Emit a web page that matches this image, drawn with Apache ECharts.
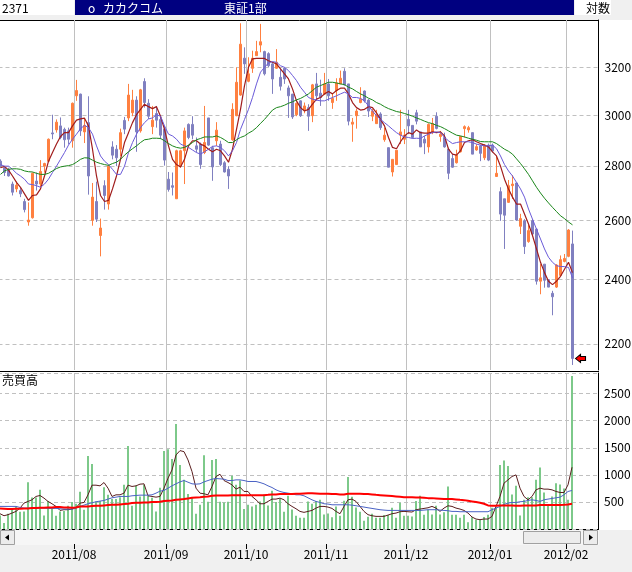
<!DOCTYPE html>
<html>
<head>
<meta charset="utf-8">
<script src="https://cdn.jsdelivr.net/npm/echarts/dist/echarts.min.js"></script>
<style>
html, body { margin: 0; padding: 0; background: #fff; }
#chart { width: 632px; height: 572px; }
</style>
</head>
<body>
<div id="chart"></div>
<script>
// trading days shown, per month
const months = ['2011/07', '2011/08', '2011/09', '2011/10', '2011/11', '2011/12', '2012/01', '2012/02'];
const monthDays = [
  [4, 5, 6, 7, 8, 11, 12, 13, 14, 15, 19, 20, 21, 22, 25, 26, 27, 28, 29],
  [1, 2, 3, 4, 5, 8, 9, 10, 11, 12, 15, 16, 17, 18, 19, 22, 23, 24, 25, 26, 29, 30, 31],
  [1, 2, 5, 6, 7, 8, 9, 12, 13, 14, 15, 16, 20, 21, 22, 26, 27, 28, 29, 30],
  [3, 4, 5, 6, 7, 11, 12, 13, 14, 17, 18, 19, 20, 21, 24, 25, 26, 27, 28, 31],
  [1, 2, 4, 7, 8, 9, 10, 11, 14, 15, 16, 17, 18, 21, 22, 24, 25, 28, 29, 30],
  [1, 2, 5, 6, 7, 8, 9, 12, 13, 14, 15, 16, 19, 20, 21, 22, 26, 27, 28, 29, 30],
  [4, 5, 6, 10, 11, 12, 13, 16, 17, 18, 19, 20, 23, 24, 25, 26, 27, 30, 31],
  [1, 2]
];
const emptySlots = 6;

const opens = [2818,2793,2787,2732,2714,2708,2668,2595,2610,2743, 2732,2799,2818,2928,2940,2956,2942,2936,2897,3079,
  3086,2932,2969,2601,2668,2548,2726,2659,2873,2864, 2864,2978,2988,3009,3061,2936,3139,3048,2953,3006,
  2982,2943,2750,2726,2678,2799,2858,2962,2962,2877, 2884,2851,2988,2870,2897,2884,2812,2787,2901,2997,
  3082,3240,3140,3196,3251,3298,3269,3260,3215,3196, 3157,3196,3112,3086,3001,3058,3020,3030,2997,3129,
  3090,3086,3129,3051,3101,3129,3183,3129,2963,2997, 3051,3099,3061,2995,2965,3004,2901,2870,2777,2805,
  2919,2903,2982,2958,3009,2932,2903,2873,2929,2995, 2914,2910,2864,2828,2812,2854,2945,2940,2929,2861,
  2877,2831,2880,2880,2760,2704,2678,2665,2726,2736, 2580,2599,2527,2599,2570,2395,2451,2400,2356,2376,
  2414,2460,2477,2519];
const closes = [2799,2775,2762,2702,2728,2696,2639,2602,2772,2732, 2779,2809,2903,2924,2971,2910,2901,2903,3048,3101,
  2936,2958,2762,2684,2605,2574,2690,2799,2841,2831, 2929,2943,3082,3061,2932,3104,3051,2995,2979,2979,
  2919,2822,2712,2720,2858,2858,2936,2910,2919,2864, 2805,2890,2880,2796,2939,2805,2777,2762,3023,3136,
  3302,3215,3172,3240,3269,3313,3172,3207,3150,3222, 3119,3150,3079,2992,3048,2997,3037,2995,3125,3079,
  3072,3129,3079,3068,3133,3153,3125,2975,2971,3016, 3065,3058,3016,3016,3001,2949,2919,2795,2825,2860,
  2932,2919,2956,2910,2975,2873,2888,2962,2965,2946, 2923,2873,2772,2795,2841,2914,2953,2949,2845,2874,
  2848,2880,2822,2857,2772,2623,2619,2726,2732,2602, 2607,2510,2565,2553,2395,2406,2398,2376,2345,2448,
  2466,2470,2567,2157];
const lows = [2793,2762,2760,2690,2702,2684,2629,2582,2607,2708, 2720,2775,2814,2903,2929,2903,2870,2883,2870,3058,
  2916,2888,2693,2582,2595,2477,2639,2639,2825,2799, 2838,2923,2975,2995,2854,2929,3030,2984,2923,2949,
  2903,2801,2704,2690,2678,2793,2732,2903,2903,2851, 2789,2845,2877,2744,2877,2799,2775,2714,2897,2995,
  3079,3172,3136,3176,3251,3266,3165,3200,3087,3193, 3101,3129,2988,2984,2995,2992,3007,2936,2971,3058,
  3037,3082,3058,3025,3058,3129,3122,2958,2893,2945, 3048,3051,2992,2975,2965,2940,2893,2795,2760,2805,
  2884,2884,2923,2906,2962,2873,2845,2851,2923,2942, 2893,2870,2750,2793,2809,2851,2910,2929,2845,2858,
  2818,2822,2818,2851,2760,2599,2502,2663,2677,2599, 2553,2485,2523,2548,2384,2353,2374,2376,2287,2373,
  2411,2457,2474,2138];
const highs = [2825,2799,2793,2741,2741,2720,2678,2665,2775,2775, 2822,2812,2906,3001,2982,2990,2949,2949,3051,3146,
  3088,2988,3077,2736,2741,2607,2746,2805,2895,2880, 2945,2992,3129,3104,3077,3108,3153,3065,3037,3037,
  2995,2956,2777,2775,2862,2862,2949,2966,2995,2910, 2890,3037,2988,2877,2971,2897,2818,2799,3048,3200,
  3397,3288,3244,3273,3317,3394,3273,3266,3222,3280, 3196,3200,3122,3086,3051,3060,3051,3044,3129,3176,
  3147,3176,3150,3090,3153,3186,3196,3129,2988,3025, 3115,3101,3065,3025,3021,3011,2949,2870,2825,2860,
  3021,2943,3021,2958,3021,2932,2916,2966,2988,3011, 2936,2929,2870,2845,2862,2916,2958,2956,2929,2884,
  2880,2884,2886,2886,2838,2720,2678,2747,2765,2736, 2624,2605,2584,2605,2573,2451,2451,2400,2364,2451,
  2480,2485,2570,2565];

// price moving averages (short / mid / long)
const maShort = [2793,2798,2784,2762,2738,2720,2696,2672,2690,2692, 2714,2762,2818,2851,2884,2914,2929,2929,2956,2979,
  2984,2987,2956,2864,2762,2690,2668,2672,2714,2762, 2825,2890,2929,2969,3001,3023,3044,3034,3026,3034,
  2995,2942,2877,2825,2805,2796,2825,2877,2897,2897, 2884,2877,2864,2854,2864,2858,2838,2814,2864,2942,
  3023,3122,3200,3237,3239,3239,3239,3229,3222,3215, 3193,3172,3150,3108,3058,3030,3016,3023,3044,3065,
  3072,3087,3097,3087,3101,3111,3111,3087,3051,3030, 3020,3023,3034,3030,3009,2982,2956,2910,2871,2866,
  2893,2916,2929,2923,2940,2929,2927,2927,2932,2929, 2932,2916,2864,2845,2841,2858,2890,2897,2901,2893,
  2886,2880,2873,2854,2838,2799,2750,2714,2684,2659, 2659,2623,2588,2548,2502,2457,2423,2395,2384,2395,
  2411,2434,2457,2423];
const maMid = [2805,2799,2799,2787,2772,2762,2750,2732,2730,2726, 2720,2732,2750,2775,2799,2825,2851,2880,2903,2923,
  2945,2958,2949,2923,2877,2838,2818,2805,2787,2768, 2768,2799,2851,2890,2923,2949,2969,2984,2988,3001,
  2995,2956,2923,2916,2903,2884,2877,2871,2861,2851, 2845,2854,2864,2875,2877,2871,2858,2838,2858,2890,
  2942,2982,3023,3072,3129,3179,3200,3219,3225,3222, 3207,3200,3186,3165,3143,3115,3094,3072,3065,3061,
  3058,3058,3065,3072,3079,3087,3094,3087,3072,3072, 3068,3058,3037,3016,2997,2982,2969,2956,2942,2929,
  2919,2912,2910,2906,2907,2906,2916,2923,2929,2932, 2929,2910,2897,2886,2890,2893,2893,2893,2890,2884,
  2880,2877,2877,2880,2866,2838,2805,2781,2762,2738, 2714,2684,2641,2605,2570,2536,2502,2474,2457,2446,
  2443,2443,2440,2406];
const maLong = [2768,2781,2787,2789,2789,2787,2781,2778,2777,2772, 2768,2768,2772,2781,2790,2796,2799,2801,2805,2814,
  2825,2831,2830,2822,2814,2809,2805,2802,2809,2814, 2825,2841,2854,2866,2877,2890,2901,2903,2907,2907,
  2906,2897,2886,2877,2871,2868,2871,2880,2890,2901, 2906,2912,2912,2912,2916,2910,2901,2890,2890,2901,
  2910,2916,2927,2936,2949,2966,2982,3001,3020,3030, 3034,3040,3048,3054,3062,3068,3077,3087,3101,3115,
  3122,3129,3136,3136,3133,3129,3126,3115,3108,3097, 3087,3079,3069,3062,3051,3044,3034,3026,3020,3014,
  3011,3006,3001,2995,2988,2982,2975,2969,2965,2958, 2953,2945,2936,2927,2919,2916,2912,2907,2903,2899,
  2894,2893,2893,2893,2886,2875,2864,2856,2845,2827, 2809,2789,2768,2744,2720,2699,2680,2663,2647,2632,
  2617,2607,2595,2585];

const volumes = [250,110,282,368,417,319,325,864,582,582, 723,251,515,374,245,325,331,429,497,466,
  687,356,1349,1201,509,515,772,631,552,552, 588,815,1533,429,797,601,815,613,576,325,
  760,1441,1471,1293,1937,1183,907,644,576,282, 447,1361,503,1275,1293,503,490,503,981,815,
  895,368,447,417,447,509,638,435,705,497, 552,319,613,362,245,208,208,509,466,515,
  539,270,288,215,417,245,521,962,595,398, 319,153,227,282,208,208,257,257,392,208,
  484,245,245,233,515,613,264,356,270,429, 270,307,785,264,264,208,264,123,215,172,
  172,221,264,392,398,1183,1263,1165,638,797, 251,539,588,588,907,1134,674,435,601,846,
  821,748,539,2826];
const volShort = [282,245,264,294,325,386,478,509,539,601, 619,570,509,466,417,343,356,356,368,392,
  478,490,631,809,809,797,858,754,601,631, 631,662,809,785,797,828,834,613,601,588,
  601,754,938,1091,1367,1447,1428,1275,1060,754, 662,650,631,785,969,1011,895,858,815,736,
  772,693,693,601,539,466,466,509,552,552, 570,539,466,417,374,325,307,325,343,386,
  417,417,405,380,325,282,417,539,552,509, 417,325,264,245,233,233,233,257,282,294,
  319,325,319,313,356,368,380,392,417,386, 325,386,429,417,386,368,343,294,221,184,
  172,184,184,233,417,601,846,907,969,999, 754,601,539,601,723,754,736,736,723,693,
  674,674,815,1140];
const volMid = [417,417,417,417,417,398,386,386,386,386, 386,386,380,380,380,374,368,368,368,386,
  417,441,466,484,503,515,527,552,576,588, 601,601,601,613,619,625,625,625,631,662,
  699,711,754,797,834,870,895,864,834,828, 834,870,895,920,932,926,920,895,895,907,
  907,895,877,877,877,858,834,797,766,723, 693,674,662,650,631,631,613,576,539,509,
  490,466,460,447,447,447,447,447,441,429, 417,405,392,380,368,356,349,343,343,343,
  343,343,343,343,343,343,349,356,356,356, 349,343,337,325,325,319,319,319,319,319,
  319,319,319,356,386,417,454,478,490,490, 503,509,527,539,527,509,539,552,564,576,
  588,631,693,711];
const volLong = [380,374,368,368,374,374,380,380,386,386, 392,392,398,398,405,405,398,398,392,398,
  417,417,417,423,429,429,435,441,447,447, 454,460,466,478,484,484,490,490,497,497,
  503,515,521,527,539,546,552,564,576,582, 588,595,601,613,619,619,619,619,625,625,
  625,625,625,625,625,625,625,631,638,638, 644,644,644,644,650,650,656,662,662,656,
  650,650,650,644,644,638,638,650,650,650, 650,644,644,638,631,625,619,613,607,601,
  595,588,588,588,582,582,576,570,570,564, 558,552,552,552,546,539,533,521,509,497,
  484,466,435,429,429,435,435,435,435,429, 429,435,435,435,435,441,441,441,441,441,
  441,447,454,466];

const priceTicks = [2200, 2400, 2600, 2800, 3000, 3200];

// build categories
const categories = [];
const monthStarts = [];
months.forEach((m, mi) => {
  monthDays[mi].forEach((d, di) => {
    if (mi > 0 && di === 0) monthStarts.push(categories.length);
    categories.push(m + '/' + (d < 10 ? '0' + d : d));
  });
});
for (let i = 0; i < emptySlots; i++) categories.push('pad' + i);
// slot boundaries (one more than slots), for the month lines
const boundaries = categories.concat(['end']);
const isMonthStart = (i) => monthStarts.indexOf(i) >= 0;

const candles = opens.map((o, i) => [o, closes[i], lows[i], highs[i]]);

const FONT = '"Noto Sans CJK JP", sans-serif';
const gridLine = { color: '#c0c0c0', width: 1, type: [4, 3] };

const chart = echarts.init(document.getElementById('chart'));

const option = {
  animation: false,
  backgroundColor: '#ffffff',
  grid: [
    { left: -1.5, top: 20, width: 600, height: 350, outerBoundsMode: 'none' },
    { left: -2, top: 373, width: 600, height: 156, outerBoundsMode: 'none' }
  ],
  xAxis: [
    { type: 'category', gridIndex: 0, position: 'bottom', data: categories, boundaryGap: true,
      axisLine: { show: false }, axisTick: { show: false }, axisLabel: { show: false }, splitLine: { show: false } },
    { type: 'category', gridIndex: 1, position: 'bottom', data: categories, boundaryGap: true,
      axisLine: { show: false }, axisTick: { show: false }, axisLabel: { show: false }, splitLine: { show: false } },
    { type: 'category', gridIndex: 0, position: 'bottom', data: boundaries, boundaryGap: false,
      axisLine: { show: false }, axisTick: { show: false }, axisLabel: { show: false },
      splitLine: { show: true, interval: isMonthStart, lineStyle: { color: '#c0c0c0', width: 1 } } },
    { type: 'category', gridIndex: 1, position: 'bottom', data: boundaries, boundaryGap: false, offset: 15,
      axisLine: { show: false },
      axisTick: { show: true, interval: isMonthStart, length: 5, lineStyle: { color: '#000' } },
      axisLabel: { show: true, interval: isMonthStart, margin: 4, color: '#000', fontSize: 12, fontFamily: FONT,
        formatter: (v) => v.slice(0, 7) },
      splitLine: { show: true, interval: isMonthStart, lineStyle: { color: '#c0c0c0', width: 1 } } }
  ],
  yAxis: [
    { type: 'log', gridIndex: 0, min: 2123.5, max: 3412, position: 'right',
      axisLine: { show: true, lineStyle: { color: '#000', width: 1 } },
      axisTick: { show: false }, axisLabel: { show: false }, splitLine: { show: false } },
    { type: 'value', gridIndex: 1, min: 0, max: 2880, interval: 500, position: 'right',
      axisLine: { show: true, lineStyle: { color: '#000', width: 1 } },
      axisTick: { show: false },
      axisLabel: { margin: 6, color: '#000', fontSize: 12, fontFamily: FONT, showMaxLabel: false, showMinLabel: false,
        formatter: (v) => (v === 0 || v > 2500 ? '' : v) },
      splitLine: { show: true, lineStyle: gridLine } }
  ],
  series: [
    {
      name: 'price', type: 'candlestick', xAxisIndex: 0, yAxisIndex: 0, data: candles,
      barWidth: 2, z: 2,
      itemStyle: { color: '#ff8040', color0: '#8080c0', borderColor: '#ff8040', borderColor0: '#8080c0',
        borderColorDoji: '#8080c0', borderWidth: 1 },
      markLine: {
        silent: true, symbol: 'none', z: 1, animation: false,
        lineStyle: gridLine,
        label: { position: 'end', distance: 6, color: '#000', fontSize: 12, fontFamily: FONT, formatter: (p) => p.value },
        data: priceTicks.map((v) => ({ yAxis: v }))
      },
      markPoint: {
        silent: true, animation: false,
        symbol: 'path://M0,4 L5,0 L5,2 L10,2 L10,6 L5,6 L5,8 Z',
        symbolSize: [10, 8], symbolOffset: [8, 0],
        itemStyle: { color: '#ff0000', borderColor: '#000', borderWidth: 1 },
        label: { show: false },
        data: [{ coord: [categories[closes.length - 1], closes[closes.length - 1]] }]
      }
    },
    { name: 'ma1', type: 'line', xAxisIndex: 0, yAxisIndex: 0, data: maShort, symbol: 'none', z: 3,
      lineStyle: { color: '#a01c1c', width: 1.2 } },
    { name: 'ma2', type: 'line', xAxisIndex: 0, yAxisIndex: 0, data: maMid, symbol: 'none', z: 3,
      lineStyle: { color: '#6a5ad8', width: 1 } },
    { name: 'ma3', type: 'line', xAxisIndex: 0, yAxisIndex: 0, data: maLong, symbol: 'none', z: 3,
      lineStyle: { color: '#1a861a', width: 1 } },
    { name: 'vol', type: 'bar', xAxisIndex: 1, yAxisIndex: 1, data: volumes, barWidth: 2, z: 2,
      itemStyle: { color: '#7dc98a' } },
    { name: 'vma1', type: 'line', xAxisIndex: 1, yAxisIndex: 1, data: volShort, symbol: 'none', z: 3,
      lineStyle: { color: '#5a1e1e', width: 1 } },
    { name: 'vma2', type: 'line', xAxisIndex: 1, yAxisIndex: 1, data: volMid, symbol: 'none', z: 3,
      lineStyle: { color: '#4a62c4', width: 1 } },
    { name: 'vma3', type: 'line', xAxisIndex: 1, yAxisIndex: 1, data: volLong, symbol: 'none', z: 3,
      lineStyle: { color: '#ff0000', width: 2 } }
  ],
  graphic: [
    // header
    { type: 'rect', z: -1, shape: { x: 0, y: 0, width: 632, height: 20 }, style: { fill: '#f0f0f0' } },
    { type: 'rect', shape: { x: 0, y: 0, width: 74, height: 15 }, style: { fill: '#ffffff' } },
    { type: 'rect', shape: { x: 75, y: 0, width: 499, height: 15 }, style: { fill: '#000080' } },
    { type: 'rect', shape: { x: 575, y: 0, width: 36, height: 15 }, style: { fill: '#ffffff' } },
    { type: 'text', style: { text: '2371', x: 2, y: 8, verticalAlign: 'middle', fill: '#000', font: '12px ' + FONT } },
    { type: 'text', style: { text: 'o', x: 88, y: 8, verticalAlign: 'middle', fill: '#fff', font: '12px ' + FONT } },
    { type: 'text', style: { text: 'カカクコム', x: 103, y: 8, verticalAlign: 'middle', fill: '#fff', font: '12px ' + FONT } },
    { type: 'text', style: { text: '東証1部', x: 224, y: 8, verticalAlign: 'middle', fill: '#fff', font: '12px ' + FONT } },
    { type: 'text', style: { text: '対数', x: 586, y: 8, verticalAlign: 'middle', fill: '#000', font: '12px ' + FONT } },
    // frame lines
    { type: 'line', shape: { x1: 0, y1: 20.5, x2: 599, y2: 20.5 }, style: { stroke: '#000', lineWidth: 1 } },
    { type: 'line', shape: { x1: 0, y1: 371.5, x2: 599, y2: 371.5 }, style: { stroke: '#000', lineWidth: 1 } },
    { type: 'line', shape: { x1: 0, y1: 529.5, x2: 599, y2: 529.5 }, style: { stroke: '#000', lineWidth: 1 } },
    // volume title
    { type: 'text', style: { text: '売買高', x: 2, y: 380, verticalAlign: 'middle', fill: '#000', font: '12px ' + FONT } },
    // bottom area + scrollbar
    { type: 'rect', z: -1, shape: { x: 0, y: 530, width: 632, height: 42 }, style: { fill: '#f0f0f0' } },
    { type: 'rect', shape: { x: 0, y: 530, width: 599, height: 15 }, style: { fill: '#f6f6f6' } },
    { type: 'rect', shape: { x: 0.5, y: 530.5, width: 14, height: 14 }, style: { fill: '#ececec', stroke: '#a0a0a0' } },
    { type: 'polygon', shape: { points: [[5, 537.5], [9, 534.5], [9, 540.5]] }, style: { fill: '#000' } },
    { type: 'rect', shape: { x: 523.5, y: 531.5, width: 57, height: 12 }, style: { fill: '#ececec', stroke: '#a0a0a0' } },
    { type: 'rect', shape: { x: 583.5, y: 530.5, width: 14, height: 14 }, style: { fill: '#ececec', stroke: '#a0a0a0' } },
    { type: 'polygon', shape: { points: [[593, 537.5], [589, 534.5], [589, 540.5]] }, style: { fill: '#000' } }
  ]
};

chart.setOption(option);
</script>
</body>
</html>
